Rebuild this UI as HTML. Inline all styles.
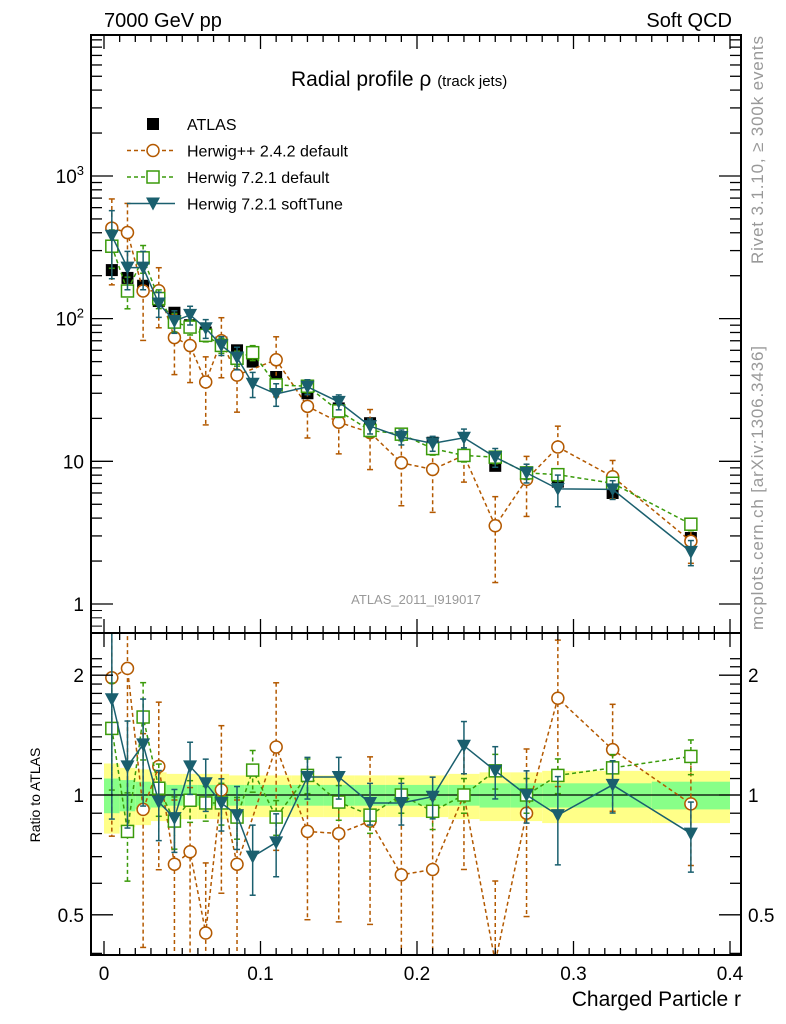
<!DOCTYPE html>
<html><head><meta charset="utf-8"><style>
html,body{margin:0;padding:0;background:#fff;overflow:hidden;width:786px;height:1024px}
svg{display:block}
svg text{font-family:"Liberation Sans",sans-serif}
</style></head><body>
<svg id="chart" width="786" height="1024" xmlns="http://www.w3.org/2000/svg">
<defs>
<clipPath id="cm"><rect x="91" y="35" width="650" height="598"/></clipPath>
<clipPath id="cr"><rect x="91" y="633" width="650" height="322"/></clipPath>
</defs>
<g id="bands" clip-path="url(#cr)"></g>
<g id="mainMarks" clip-path="url(#cm)"></g>
<g id="ratioMarks" clip-path="url(#cr)"></g>
<g id="axes"></g>
<text x="104" y="27" font-size="20">7000 GeV pp</text>
<text x="732" y="27" font-size="20" text-anchor="end">Soft QCD</text>
<text x="291" y="86" font-size="21">Radial profile ρ <tspan font-size="15">(track jets)</tspan></text>
<text x="416" y="604" font-size="13" fill="#999" text-anchor="middle">ATLAS_2011_I919017</text>
<text transform="translate(763,150) rotate(-90)" font-size="17" fill="#999" text-anchor="middle" textLength="228">Rivet 3.1.10, ≥ 300k events</text>
<text transform="translate(763,488) rotate(-90)" font-size="17" fill="#999" text-anchor="middle" textLength="284">mcplots.cern.ch [arXiv:1306.3436]</text>
<text transform="translate(40,795) rotate(-90)" font-size="14" text-anchor="middle">Ratio to ATLAS</text>
<text x="741" y="1006" font-size="21" text-anchor="end">Charged Particle r</text>
<g id="legend"></g>
</svg>
<script>
const xCenters=[0.005,0.015,0.025,0.035,0.045,0.055,0.065,0.075,0.085,0.095,0.11,0.13,0.15,0.17,0.19,0.21,0.23,0.25,0.27,0.29,0.325,0.375];
const xEdges=[0,0.01,0.02,0.03,0.04,0.05,0.06,0.07,0.08,0.09,0.1,0.12,0.14,0.16,0.18,0.2,0.22,0.24,0.26,0.28,0.3,0.35,0.4];
const atlasVals=[219,193,170,133,110,90,80,68,60,50,39,30,23.5,18.5,15.5,13.5,11,9.3,8.3,7.2,6.0,2.9];
const atlasStat=[0.10,0.09,0.08,0.07,0.06,0.06,0.06,0.06,0.06,0.06,0.06,0.06,0.06,0.06,0.06,0.06,0.06,0.07,0.07,0.07,0.07,0.08];
const atlasTot=[0.20,0.17,0.16,0.14,0.13,0.13,0.13,0.13,0.12,0.12,0.12,0.12,0.12,0.12,0.12,0.12,0.13,0.14,0.14,0.15,0.15,0.15];
const hppRatio=[1.97,2.08,0.92,1.18,0.67,0.72,0.45,1.03,0.67,null,1.32,0.81,0.80,0.86,0.63,0.65,1.0,0.38,0.90,1.75,1.30,0.95];
const hppErr=[0.6,0.6,0.55,0.45,0.45,0.45,0.5,0.45,0.45,0.4,0.45,0.4,0.4,0.45,0.5,0.5,0.35,0.6,0.45,0.4,0.3,0.3];
const h7Ratio=[1.47,0.81,1.57,1.04,0.86,0.97,0.955,0.955,0.88,1.155,0.88,1.12,0.96,0.89,1.0,0.91,1.0,1.15,1.0,1.12,1.17,1.25];
const h7Err=[0.3,0.25,0.22,0.15,0.15,0.12,0.1,0.12,0.12,0.12,0.1,0.1,0.1,0.1,0.1,0.1,0.1,0.1,0.1,0.1,0.08,0.1];
const stRatio=[1.74,1.18,1.34,0.96,0.875,1.18,1.07,0.955,0.89,0.70,0.76,1.11,1.11,0.955,0.955,0.99,1.33,1.15,1.0,0.89,1.06,0.80];
const stErr=[0.5,0.3,0.3,0.2,0.18,0.15,0.15,0.15,0.18,0.2,0.18,0.12,0.12,0.12,0.12,0.12,0.15,0.15,0.15,0.25,0.15,0.2];
const ratioTickVals=[0.5,1,2];
const xTickVals=[0,0.1,0.2,0.3,0.4];

const NS="http://www.w3.org/2000/svg";
const X=v=>104+v*1565;
const YM=v=>604-Math.log10(v)*142.67;
const YR=v=>795-Math.log10(v)*398;
function mk(tag,attrs,parent){const e=document.createElementNS(NS,tag);for(const k in attrs)e.setAttribute(k,attrs[k]);parent.appendChild(e);return e;}
const bands=document.getElementById('bands'),mm=document.getElementById('mainMarks'),rm=document.getElementById('ratioMarks'),ax=document.getElementById('axes'),lg=document.getElementById('legend');

xCenters.forEach((c,i)=>{
 const x0=X(xEdges[i]),x1=X(xEdges[i+1]);
 const y=mk('rect',{x:x0,y:YR(1+atlasTot[i]),width:x1-x0,height:YR(1-atlasTot[i])-YR(1+atlasTot[i]),fill:'#ffff88'},bands);
 
 
 const g=mk('rect',{x:x0,y:YR(1+atlasStat[i]),width:x1-x0,height:YR(1-atlasStat[i])-YR(1+atlasStat[i]),fill:'#88ff88'},bands);
 
 
});
mk('line',{x1:91,x2:741,y1:YR(1),y2:YR(1),stroke:'#000','stroke-width':1.3},bands);

function marker(type,x,y,col,parent){
 let e;
 if(type==='circ') e=mk('circle',{cx:x,cy:y,r:6,fill:'#fff',stroke:col,'stroke-width':1.5},parent);
 else if(type==='sq') e=mk('rect',{x:x-6,y:y-6,width:12,height:12,fill:'#fff',stroke:col,'stroke-width':1.5},parent);
 else if(type==='tri') e=mk('path',{d:`M${x-7},${y-6}L${x+7},${y-6}L${x},${y+7}Z`,fill:col},parent);
 else e=mk('rect',{x:x-6,y:y-6,width:12,height:12,fill:'#000'},parent);
 return e;
}
function drawSeries(ratios,errs,col,dash,type,name){
 [[mm,YM,true],[rm,YR,false]].forEach(([par,Y,isMain])=>{
  const pts=[];
  const g=mk('g',{},par);
  
  
  ratios.forEach((r,i)=>{
   if(r===null)return;
   const v=isMain?r*atlasVals[i]:r;
   const x=X(xCenters[i]),y=Y(v);
   pts.push(x+','+y);
   const lo=Y(v*Math.max(0.05,1-errs[i])),hi=Y(v*(1+errs[i]));
   mk('line',{x1:x,x2:x,y1:hi,y2:lo,stroke:col,'stroke-width':1.5,'stroke-dasharray':dash},g);
   mk('line',{x1:x-3,x2:x+3,y1:hi,y2:hi,stroke:col,'stroke-width':1.5},g);
   mk('line',{x1:x-3,x2:x+3,y1:lo,y2:lo,stroke:col,'stroke-width':1.5},g);
  });
  mk('polyline',{points:pts.join(' '),fill:'none',stroke:col,'stroke-width':1.5,'stroke-dasharray':dash},g);
  ratios.forEach((r,i)=>{
   if(r===null)return;
   const v=isMain?r*atlasVals[i]:r;
   const m=marker(type,X(xCenters[i]),Y(v),col,g);
   
   
  });
 });
}
xCenters.forEach((c,i)=>{
 const m=marker('atlas',X(c),YM(atlasVals[i]),'#000',mm);
 
 
});
drawSeries(hppRatio,hppErr,'#b35900','4,3','circ','herwigpp-242-default');
drawSeries(h7Ratio,h7Err,'#3a9a0a','4,3','sq','herwig-721-default');
drawSeries(stRatio,stErr,'#1a5f6e','','tri','herwig-721-softtune');

mk('rect',{x:91,y:35,width:650,height:920,fill:'none',stroke:'#000','stroke-width':2},ax);
mk('line',{x1:91,x2:741,y1:633,y2:633,stroke:'#000','stroke-width':2},ax);
for(let d=0;d<4;d++){for(let k=1;k<10;k++){const v=Math.pow(10,d)*k;const y=YM(v);if(y<35||y>633)continue;const L=k===1?22:11;
 mk('line',{x1:91,x2:91+L,y1:y,y2:y,stroke:'#000','stroke-width':1.3},ax);
 mk('line',{x1:741,x2:741-L,y1:y,y2:y,stroke:'#000','stroke-width':1.3},ax);}}
for(let k=2;k<10;k++){const y=YM(0.1*k);if(y<=633){mk('line',{x1:91,x2:102,y1:y,y2:y,stroke:'#000'},ax);}}
[["1",1],["10",10]].forEach(([t,v])=>{const e=mk('text',{x:84,y:YM(v)+7,'font-size':19,'text-anchor':'end'},ax);e.textContent=t;});
{const e=mk('text',{x:84,y:YM(100)+7,'font-size':19,'text-anchor':'end'},ax);e.innerHTML='10<tspan dy="-8" font-size="13">2</tspan>';}
{const e=mk('text',{x:84,y:YM(1000)+7,'font-size':19,'text-anchor':'end'},ax);e.innerHTML='10<tspan dy="-8" font-size="13">3</tspan>';}
[0.4,0.5,0.6,0.7,0.8,0.9,1,2,1.1,1.2,1.3,1.4,1.5,1.6,1.7,1.8,1.9,2.1,2.2].forEach(v=>{const y=YR(v);if(y<633||y>955)return;const L=ratioTickVals.includes(v)?22:11;
 mk('line',{x1:91,x2:91+L,y1:y,y2:y,stroke:'#000','stroke-width':1.3},ax);
 mk('line',{x1:741,x2:741-L,y1:y,y2:y,stroke:'#000','stroke-width':1.3},ax);});
ratioTickVals.forEach(v=>{[[84,'end'],[748,'start']].forEach(([x,a])=>{const e=mk('text',{x:x,y:YR(v)+7,'font-size':19,'text-anchor':a},ax);e.textContent=String(v);});});
for(let k=0;k<=40;k++){const v=k/100;const x=X(v);const major=k%10===0;const L=major?14:7;
 [[955,-1],[633,-1],[633,1],[35,1]].forEach(([y0,s])=>mk('line',{x1:x,x2:x,y1:y0,y2:y0+s*L,stroke:'#000','stroke-width':1.3},ax));}
xTickVals.forEach(v=>{const e=mk('text',{x:X(v),y:980,'font-size':19,'text-anchor':'middle'},ax);e.textContent=String(v);});

const legItems=[['ATLAS','#000','','atlas'],['Herwig++ 2.4.2 default','#b35900','4,3','circ'],['Herwig 7.2.1 default','#3a9a0a','4,3','sq'],['Herwig 7.2.1 softTune','#1a5f6e','','tri']];
legItems.forEach(([t,c,d,ty],i)=>{const y=124+i*26.5;
 const g=mk('g',{},lg);
 
 
 if(ty!=='atlas')mk('line',{x1:127,x2:175,y1:y,y2:y,stroke:c,'stroke-width':1.5,'stroke-dasharray':d},g);
 marker(ty,153,y,c,g);
 const e=mk('text',{x:187,y:y+6,'font-size':16},g);e.textContent=t;});
</script>
</body></html>
